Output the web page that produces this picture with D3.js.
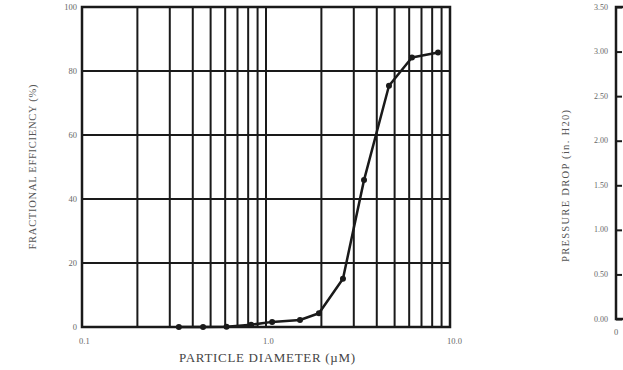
<!DOCTYPE html>
<html>
<head>
<meta charset="utf-8">
<script src="https://cdn.jsdelivr.net/npm/d3@7"></script>
<style>
  body { margin: 0; background: #fff; }
  text { font-family: "Liberation Serif", "DejaVu Serif", serif; }
</style>
</head>
<body>
<svg id="chart" width="623" height="370"></svg>
<script>
// Fractional efficiency curve.
const diameters   = [ 0.336, 0.455, 0.61, 0.83, 1.08, 1.53, 1.94, 2.62, 3.41, 4.66, 6.21, 8.61 ];
const efficiency  = [ 0, 0, 0.1, 0.7, 1.6, 2.2, 4.3, 15.1, 45.9, 75.4, 84.2, 85.8 ];
const effTicks    = [ 0, 20, 40, 60, 80, 100 ];
const diamLabels  = [ [ 0.1, '0.1' ], [ 1, '1.0' ], [ 10, '10.0' ] ];
const pressTicks  = [ 0, 0.5, 1, 1.5, 2, 2.5, 3, 3.5 ];

const svg = d3.select( '#chart' );
const ink = '#1a1a1a';

// ---- left panel: fractional efficiency ----
const L = { left: 82, right: 450, top: 7, bottom: 327 };
const x = d3.scaleLog().domain( [ 0.1, 10 ] ).range( [ L.left, L.right ] );
const y = d3.scaleLinear().domain( [ 0, 100 ] ).range( [ L.bottom, L.top ] );

// log grid lines: 0.2..0.9, 2..9
const gridX = [];
[ 0.1, 1 ].forEach( dec => { for ( let k = 2; k <= 9; k++ ) gridX.push( dec * k ); } );
gridX.push( 1 );

const grid = svg.append( 'g' ).attr( 'stroke', ink ).attr( 'stroke-width', 2 );
grid.selectAll( 'line.v' ).data( gridX ).join( 'line' )
  .attr( 'x1', d => x( d ) ).attr( 'x2', d => x( d ) )
  .attr( 'y1', L.top ).attr( 'y2', L.bottom );
grid.selectAll( 'line.h' ).data( effTicks.slice( 1, -1 ) ).join( 'line' )
  .attr( 'x1', L.left ).attr( 'x2', L.right )
  .attr( 'y1', d => y( d ) ).attr( 'y2', d => y( d ) );
svg.append( 'rect' )
  .attr( 'x', L.left ).attr( 'y', L.top )
  .attr( 'width', L.right - L.left ).attr( 'height', L.bottom - L.top )
  .attr( 'fill', 'none' ).attr( 'stroke', ink ).attr( 'stroke-width', 2.5 );

// tick labels
svg.append( 'g' ).selectAll( 'text' ).data( effTicks ).join( 'text' )
  .attr( 'x', L.left - 5 ).attr( 'y', d => y( d ) + 2.5 )
  .attr( 'text-anchor', 'end' ).attr( 'font-size', 8.5 ).attr( 'fill', '#666' )
  .text( d => d );
svg.append( 'g' ).selectAll( 'text' ).data( diamLabels ).join( 'text' )
  .attr( 'x', d => x( d[ 0 ] ) - 3 ).attr( 'y', 344 )
  .attr( 'font-size', 8.5 ).attr( 'fill', '#666' )
  .text( d => d[ 1 ] );

// axis titles
svg.append( 'text' )
  .attr( 'transform', `translate( 36, ${( L.top + L.bottom ) / 2} ) rotate(-90)` )
  .attr( 'text-anchor', 'middle' ).attr( 'font-size', 10.5 ).attr( 'fill', '#555' )
  .attr( 'textLength', 165 ).attr( 'lengthAdjust', 'spacing' )
  .text( 'FRACTIONAL EFFICIENCY (%)' );
svg.append( 'text' )
  .attr( 'x', 267 ).attr( 'y', 362 )
  .attr( 'text-anchor', 'middle' ).attr( 'font-size', 13 ).attr( 'fill', '#444' )
  .attr( 'textLength', 176 ).attr( 'lengthAdjust', 'spacing' )
  .text( 'PARTICLE DIAMETER (µM)' );

// curve and markers
const pts = diameters.map( ( d, i ) => [ d, efficiency[ i ] ] );
svg.append( 'path' ).datum( pts )
  .attr( 'fill', 'none' ).attr( 'stroke', ink ).attr( 'stroke-width', 2.5 )
  .attr( 'stroke-linejoin', 'round' )
  .attr( 'd', d3.line().x( d => x( d[ 0 ] ) ).y( d => y( d[ 1 ] ) ) );
svg.append( 'g' ).selectAll( 'circle' ).data( pts ).join( 'circle' )
  .attr( 'cx', d => x( d[ 0 ] ) ).attr( 'cy', d => y( d[ 1 ] ) )
  .attr( 'r', 3 ).attr( 'fill', ink );

// ---- right panel: pressure drop (cut off) ----
const R = { left: 616, top: 7, bottom: 319 };
const yp = d3.scaleLinear().domain( [ 0, 3.5 ] ).range( [ R.bottom, R.top ] );
const pAxis = d3.axisRight( yp ).tickValues( pressTicks ).tickSize( 6 ).tickFormat( () => '' );
const pg = svg.append( 'g' ).attr( 'transform', `translate( ${R.left}, 0 )` ).call( pAxis );
pg.select( '.domain' ).remove();
pg.selectAll( '.tick line' ).attr( 'stroke', ink ).attr( 'stroke-width', 2 );
svg.append( 'path' )
  .attr( 'd', `M${R.left + 10},${R.top} H${R.left} V${R.bottom} H623` )
  .attr( 'fill', 'none' ).attr( 'stroke', ink ).attr( 'stroke-width', 2.5 );
svg.append( 'g' ).selectAll( 'text' ).data( pressTicks ).join( 'text' )
  .attr( 'x', R.left - 8 ).attr( 'y', d => yp( d ) + 2.5 )
  .attr( 'text-anchor', 'end' ).attr( 'font-size', 8 ).attr( 'fill', '#666' )
  .text( d => d.toFixed( 2 ) );
svg.append( 'text' )
  .attr( 'x', R.left ).attr( 'y', 335 )
  .attr( 'text-anchor', 'middle' ).attr( 'font-size', 8.5 ).attr( 'fill', '#666' )
  .text( '0' );
svg.append( 'text' )
  .attr( 'transform', `translate( 569, 186 ) rotate(-90)` )
  .attr( 'text-anchor', 'middle' ).attr( 'font-size', 10.5 ).attr( 'fill', '#555' )
  .attr( 'textLength', 152 ).attr( 'lengthAdjust', 'spacing' )
  .text( 'PRESSURE DROP (in. H20)' );
</script>
</body>
</html>
